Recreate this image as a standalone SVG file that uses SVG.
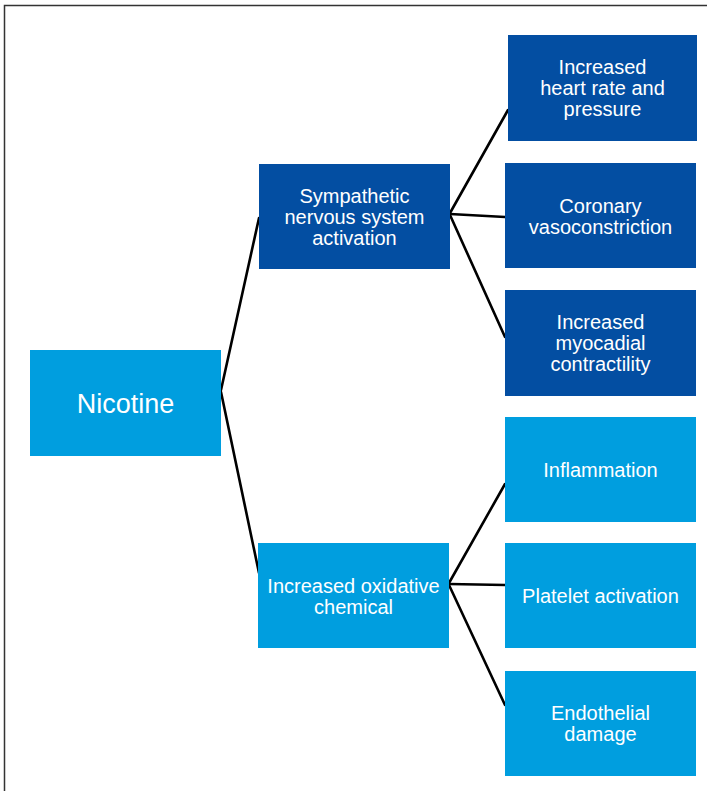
<svg xmlns="http://www.w3.org/2000/svg" width="707" height="791" viewBox="0 0 707 791">
<style>
.dark{fill:#034EA2}
.light{fill:#009EDF}
text{font-family:"Liberation Sans",Arial,Helvetica,sans-serif;font-size:20px;fill:#ffffff;text-anchor:middle}
.big{font-size:27px}
.conn{stroke:#000000;stroke-width:2.6;fill:none;stroke-linecap:round}
</style>
<rect x="0" y="0" width="707" height="791" fill="#ffffff"/>
<path d="M4.5,791 V5.5 H707" stroke="#333333" stroke-width="1.5" fill="none"/>
<g id="connectors">
<line class="conn" x1="221" y1="390" x2="259" y2="218"/>
<line class="conn" x1="221" y1="392" x2="259" y2="573"/>
<line class="conn" x1="450" y1="213" x2="508" y2="110"/>
<line class="conn" x1="450" y1="214" x2="505" y2="217"/>
<line class="conn" x1="450" y1="215" x2="505" y2="337"/>
<line class="conn" x1="449" y1="583" x2="505" y2="484"/>
<line class="conn" x1="449" y1="584" x2="505" y2="585"/>
<line class="conn" x1="449" y1="585" x2="505" y2="705"/>
</g>
<g id="nicotine">
<rect class="light" x="30" y="350" width="191" height="106"/>
<text class="big" x="125.5" y="413">Nicotine</text>
</g>
<g id="sympathetic">
<rect class="dark" x="259" y="164" width="191" height="105"/>
<text x="354.5" y="203">Sympathetic</text>
<text x="354.5" y="224">nervous system</text>
<text x="354.5" y="245">activation</text>
</g>
<g id="oxidative">
<rect class="light" x="258" y="543" width="191" height="105"/>
<text x="353.5" y="593">Increased oxidative</text>
<text x="353.5" y="614">chemical</text>
</g>
<g id="heartrate">
<rect class="dark" x="508" y="35" width="189" height="106"/>
<text x="602.5" y="74">Increased</text>
<text x="602.5" y="95">heart rate and</text>
<text x="602.5" y="116">pressure</text>
</g>
<g id="coronary">
<rect class="dark" x="505" y="163" width="191" height="105"/>
<text x="600.5" y="213">Coronary</text>
<text x="600.5" y="234">vasoconstriction</text>
</g>
<g id="myocardial">
<rect class="dark" x="505" y="290" width="191" height="106"/>
<text x="600.5" y="329">Increased</text>
<text x="600.5" y="350">myocadial</text>
<text x="600.5" y="371">contractility</text>
</g>
<g id="inflammation">
<rect class="light" x="505" y="417" width="191" height="105"/>
<text x="600.5" y="477">Inflammation</text>
</g>
<g id="platelet">
<rect class="light" x="505" y="543" width="191" height="105"/>
<text x="600.5" y="603">Platelet activation</text>
</g>
<g id="endothelial">
<rect class="light" x="505" y="671" width="191" height="105"/>
<text x="600.5" y="720">Endothelial</text>
<text x="600.5" y="741">damage</text>
</g>
</svg>
